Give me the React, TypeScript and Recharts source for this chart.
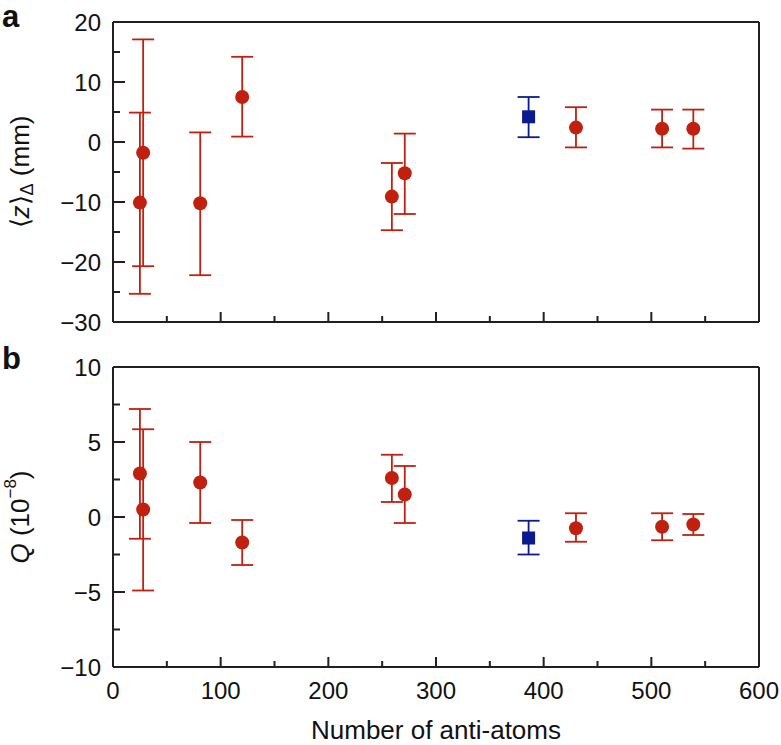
import React from 'react';
import { ScatterChart, Scatter, XAxis, YAxis, ErrorBar, Label } from 'recharts';

// number of anti-atoms per run
const counts = [25, 28, 81, 120, 259, 271, 430, 510, 539];
const blueCounts = [386];

// panel a: <z> (mm)
const zMean = [-10.1, -1.8, -10.2, 7.5, -9.1, -5.2, 2.4, 2.2, 2.2];
const zHigh = [4.9, 17.1, 1.6, 14.2, -3.5, 1.4, 5.8, 5.4, 5.4];
const zLow = [-25.3, -20.7, -22.2, 0.9, -14.7, -12.0, -0.9, -0.9, -1.1];
const zBlueMean = [4.2];
const zBlueHigh = [7.5];
const zBlueLow = [0.8];

// panel b: Q (1e-8)
const qMean = [2.9, 0.5, 2.3, -1.7, 2.6, 1.5, -0.75, -0.65, -0.5];
const qHigh = [7.2, 5.85, 5.0, -0.2, 4.15, 3.4, 0.25, 0.25, 0.2];
const qLow = [-1.45, -4.9, -0.4, -3.2, 1.0, -0.4, -1.65, -1.55, -1.2];
const qBlueMean = [-1.4];
const qBlueHigh = [-0.25];
const qBlueLow = [-2.5];

const xTicks = [0, 50, 100, 150, 200, 250, 300, 350, 400, 450, 500, 550, 600];
const zTicks = [-30, -25, -20, -15, -10, -5, 0, 5, 10, 15, 20];
const qTicks = [-10, -7.5, -5, -2.5, 0, 2.5, 5, 7.5, 10];

const RED = '#c0200f';
const BLUE = '#0b1a8e';
const INK = '#231f20';
const FONT = '"Liberation Sans", Arial, Helvetica, sans-serif';

const rows = (xs: number[], mean: number[], hi: number[], lo: number[]) =>
  xs.map((x, i) => ({ x, y: mean[i], err: [mean[i] - lo[i], hi[i] - mean[i]] }));

const fmt = (v: number) => (v < 0 ? '\u2212' + Math.abs(v) : String(v));

const XTick = ({ x, y, payload, side, showLabel }: any) => {
  const major = payload.value % 100 === 0;
  const len = major ? 10 : 6;
  const dir = side === 'top' ? 1 : -1;
  return (
    <g>
      <line x1={x} y1={y} x2={x} y2={y + dir * len} stroke={INK} strokeWidth={2} />
      {showLabel && major && (
        <text x={x} y={y + 32} textAnchor="middle" fontSize={24} fontFamily={FONT} fill="#111">
          {payload.value}
        </text>
      )}
    </g>
  );
};

const YTick = ({ x, y, payload, side, step }: any) => {
  const major = Math.abs(payload.value % step) < 1e-9;
  const len = major ? 12 : 7;
  const dir = side === 'left' ? 1 : -1;
  return (
    <g>
      <line x1={x} y1={y} x2={x + dir * len} y2={y} stroke={INK} strokeWidth={2} />
      {side === 'left' && major && (
        <text x={x - 12} y={y} dy="0.36em" textAnchor="end" fontSize={24} fontFamily={FONT} fill="#111">
          {fmt(payload.value)}
        </text>
      )}
    </g>
  );
};

const axisLine = { stroke: INK, strokeWidth: 2 };

const Circle = (p: any) => <circle cx={p.cx} cy={p.cy} r={7} fill={RED} />;
const Square = (p: any) => <rect x={p.cx - 6.5} y={p.cy - 6.5} width={13} height={13} fill={BLUE} />;

const TitleA = ({ viewBox }: any) => {
  const cy = viewBox.y + viewBox.height / 2;
  return (
    <text
      transform={`translate(20, ${cy}) rotate(-90)`}
      textAnchor="middle"
      dominantBaseline="central"
      fontSize={26}
      fontFamily={FONT}
      fill="#111"
    >
      <tspan>⟨</tspan>
      <tspan fontStyle="italic">z</tspan>
      <tspan>⟩</tspan>
      <tspan fontSize={18} dy={7}>Δ</tspan>
      <tspan dy={-7}> (mm)</tspan>
    </text>
  );
};

const TitleB = ({ viewBox }: any) => {
  const cy = viewBox.y + viewBox.height / 2;
  return (
    <text
      transform={`translate(20, ${cy}) rotate(-90)`}
      textAnchor="middle"
      dominantBaseline="central"
      fontSize={26}
      fontFamily={FONT}
      fill="#111"
    >
      <tspan fontStyle="italic">Q</tspan>
      <tspan> (10</tspan>
      <tspan fontSize={17} dy={-10}>−8</tspan>
      <tspan dy={10}>)</tspan>
    </text>
  );
};

const XTitle = ({ viewBox }: any) => (
  <text
    x={viewBox.x + viewBox.width / 2}
    y={viewBox.y + 63}
    textAnchor="middle"
    dominantBaseline="central"
    fontSize={26}
    fontFamily={FONT}
    fill="#111"
  >
    Number of anti-atoms
  </text>
);

const Panel = ({ height, topH, bottomH, red, blue, yTicks, yDomain, step, showX, title }: any) => (
  <ScatterChart width={781} height={height} margin={{ top: 0, right: 0, bottom: 0, left: 0 }}>
    <XAxis
      xAxisId="b"
      dataKey="x"
      type="number"
      domain={[0, 600]}
      ticks={xTicks}
      interval={0}
      height={bottomH}
      axisLine={axisLine}
      tickLine={false}
      tickSize={0}
      tickMargin={0}
      tick={(p: any) => <XTick {...p} side="bottom" showLabel={showX} />}
    >
      {showX && <Label content={XTitle} />}
    </XAxis>
    <XAxis
      xAxisId="t"
      orientation="top"
      type="number"
      domain={[0, 600]}
      ticks={xTicks}
      interval={0}
      height={topH}
      axisLine={axisLine}
      tickLine={false}
      tickSize={0}
      tickMargin={0}
      tick={(p: any) => <XTick {...p} side="top" />}
    />
    <YAxis
      yAxisId="l"
      dataKey="y"
      type="number"
      domain={yDomain}
      ticks={yTicks}
      interval={0}
      width={113}
      axisLine={axisLine}
      tickLine={false}
      tickSize={0}
      tickMargin={0}
      tick={(p: any) => <YTick {...p} side="left" step={step} />}
    >
      <Label content={title} />
    </YAxis>
    <YAxis
      yAxisId="r"
      orientation="right"
      type="number"
      domain={yDomain}
      ticks={yTicks}
      interval={0}
      width={22}
      axisLine={axisLine}
      tickLine={false}
      tickSize={0}
      tickMargin={0}
      tick={(p: any) => <YTick {...p} side="right" step={step} />}
    />
    <Scatter data={red} xAxisId="b" yAxisId="l" shape={Circle} isAnimationActive={false}>
      <ErrorBar dataKey="err" direction="y" width={11} stroke={RED} strokeWidth={1.8} isAnimationActive={false} />
    </Scatter>
    <Scatter data={blue} xAxisId="b" yAxisId="l" shape={Square} isAnimationActive={false}>
      <ErrorBar dataKey="err" direction="y" width={11} stroke={BLUE} strokeWidth={1.8} isAnimationActive={false} />
    </Scatter>
  </ScatterChart>
);

const letterStyle: React.CSSProperties = {
  position: 'absolute',
  left: 2,
  fontFamily: FONT,
  fontWeight: 'bold',
  fontSize: 31,
  lineHeight: '31px',
  color: '#111',
};

export default function App() {
  const zRed = rows(counts, zMean, zHigh, zLow);
  const zBlue = rows(blueCounts, zBlueMean, zBlueHigh, zBlueLow);
  const qRed = rows(counts, qMean, qHigh, qLow);
  const qBlue = rows(blueCounts, qBlueMean, qBlueHigh, qBlueLow);
  return (
    <div style={{ position: 'absolute', left: 0, top: 0, width: 781, height: 745, background: '#fff' }}>
      <Panel
        height={344}
        topH={22}
        bottomH={22}
        red={zRed}
        blue={zBlue}
        yTicks={zTicks}
        yDomain={[-30, 20]}
        step={10}
        showX={false}
        title={TitleA}
      />
      <Panel
        height={401}
        topH={23}
        bottomH={78}
        red={qRed}
        blue={qBlue}
        yTicks={qTicks}
        yDomain={[-10, 10]}
        step={5}
        showX={true}
        title={TitleB}
      />
      <div style={{ ...letterStyle, top: 1 }}>a</div>
      <div style={{ ...letterStyle, top: 343 }}>b</div>
    </div>
  );
}
